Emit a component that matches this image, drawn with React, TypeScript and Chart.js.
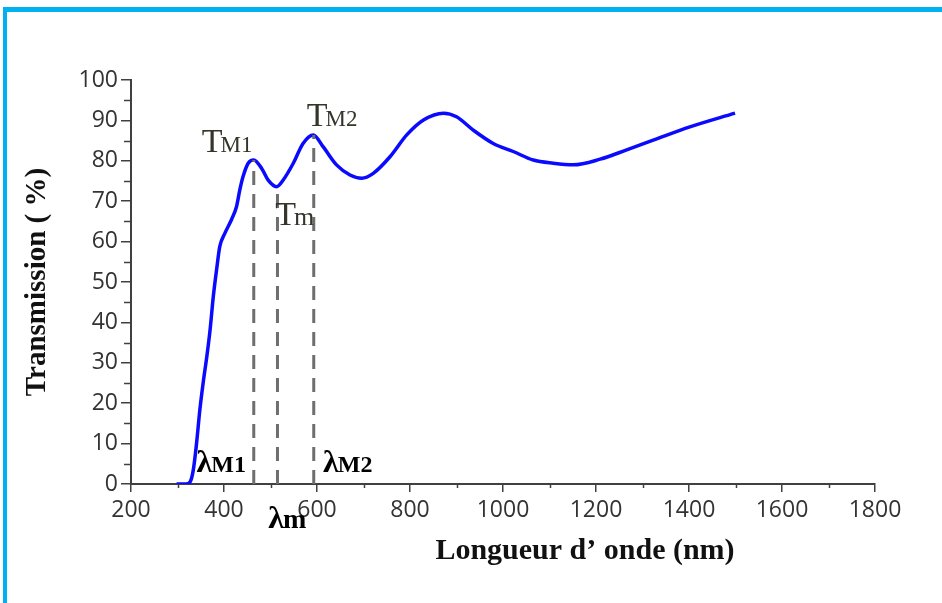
import React, { useEffect, useRef } from 'react';
import { Chart, registerables } from 'chart.js';

Chart.register(...registerables);

// Transmission spectrum (wavelength in nm, transmission in %)
const wavelengths = [298, 318, 327, 334, 341, 348, 355, 363, 370, 377, 384, 391, 402, 416, 427, 434, 441, 452, 464, 481, 495, 513, 527, 549, 570, 592, 613, 642, 671, 696, 721, 757, 793, 829, 872, 900, 936, 979, 1022, 1065, 1108, 1151, 1209, 1266, 1323, 1402, 1499];
const transmission = [0, 0, 0.5, 3.5, 10.1, 18.3, 24.9, 31.5, 38.1, 46.4, 53, 58.8, 62.1, 65.4, 68.7, 72.8, 76.1, 79.4, 80.2, 78.1, 75.2, 73.6, 75.2, 79.4, 84.3, 86.4, 83.5, 79, 76.5, 75.7, 76.9, 81, 86.4, 90.1, 91.8, 90.9, 87.6, 84.3, 82.3, 80.2, 79.4, 79, 80.4, 82.7, 85.1, 88.4, 91.8];

// Extrema marked by dashed lines: λM1, λm, λM2
const extremaNm = [464, 515, 593];
const extremaT = [80.2, 73.6, 86.4];

// Annotation labels (anchored in data coordinates)
const labelMain = ['T', 'T', 'T', 'λ', 'λ', 'λ'];
const labelSub = ['M1', 'M2', 'm', 'M1', 'M2', 'm'];
const labelNm = [352, 578, 510, 341, 613, 495];
const labelT = [82.1, 88.5, 64.1, 2.9, 2.9, -11];

const xTicks = { min: 200, max: 1800, step: 200 };
const yTicks = { min: 0, max: 100, step: 10 };

const xTitle = "Longueur d\u2019 onde (nm)";
const yTitle = 'Transmission ( %)';

const AXIS = '#404040';
const TICK_FONT = { family: "'Open Sans', 'Liberation Sans', sans-serif", size: 23 };

const overlayPlugin = {
  id: 'overlay',
  afterDraw(chart: any) {
    const { ctx, scales, chartArea } = chart;
    const xs = scales.x;
    const ys = scales.y;
    ctx.save();
    // minor ticks
    ctx.strokeStyle = AXIS;
    ctx.lineWidth = 1.5;
    for (let v = yTicks.min + yTicks.step / 2; v < yTicks.max; v += yTicks.step) {
      const py = Math.round(ys.getPixelForValue(v)) + 0.5;
      ctx.beginPath();
      ctx.moveTo(chartArea.left - 7, py);
      ctx.lineTo(chartArea.left, py);
      ctx.stroke();
    }
    for (let v = xTicks.min + xTicks.step / 2; v < xTicks.max; v += xTicks.step) {
      const px = Math.round(xs.getPixelForValue(v)) + 0.5;
      ctx.beginPath();
      ctx.moveTo(px, chartArea.bottom);
      ctx.lineTo(px, chartArea.bottom + 4);
      ctx.stroke();
    }
    // annotation labels
    ctx.textBaseline = 'alphabetic';
    ctx.textAlign = 'left';
    for (let i = 0; i < labelMain.length; i++) {
      const isLambda = labelMain[i] === 'λ';
      const px = xs.getPixelForValue(labelNm[i]);
      const py = ys.getPixelForValue(labelT[i]);
      const weight = isLambda ? 'bold ' : '';
      ctx.fillStyle = isLambda ? '#000' : '#35352a';
      ctx.font = `${weight}${isLambda ? 32 : 34}px 'Liberation Serif', serif`;
      ctx.fillText(labelMain[i], px, py);
      const w = ctx.measureText(labelMain[i]).width;
      const subSize = labelSub[i] === 'm' ? (isLambda ? 28 : 26) : (isLambda ? 24 : 23);
      ctx.font = `${weight}${subSize}px 'Liberation Serif', serif`;
      ctx.fillText(labelSub[i], px + w - (isLambda ? 1 : 2), py);
    }
    // x axis title
    ctx.fillStyle = '#111';
    ctx.font = "bold 30px 'Liberation Serif', serif";
    ctx.textAlign = 'center';
    ctx.textBaseline = 'middle';
    ctx.fillText(xTitle, xs.getPixelForValue(1000) + 82, chartArea.bottom + 67);
    ctx.restore();
  },
};

export default function App() {
  const canvasRef = useRef<HTMLCanvasElement | null>(null);

  useEffect(() => {
    const canvas = canvasRef.current;
    if (!canvas) return;
    const spectrum = wavelengths.map((x, i) => ({ x, y: transmission[i] }));
    const dashedSets = extremaNm.map((nm, i) => ({
      label: 'extremum ' + i,
      data: [
        { x: nm, y: 0 },
        { x: nm, y: extremaT[i] },
      ],
      borderColor: '#6e6e6e',
      borderWidth: 3,
      borderDash: [14, 9],
      pointRadius: 0,
      fill: false,
      tension: 0,
    }));

    const chart = new Chart(canvas, {
      type: 'line',
      data: {
        datasets: [
          ...dashedSets,
          {
            label: 'Transmission',
            data: spectrum,
            borderColor: '#0a0aff',
            borderWidth: 3.5,
            pointRadius: 0,
            fill: false,
            cubicInterpolationMode: 'monotone',
          },
        ],
      },
      options: {
        responsive: false,
        animation: false,
        layout: { padding: { left: 0, right: 67, top: 80, bottom: 0 } },
        plugins: {
          legend: { display: false },
          tooltip: { enabled: false },
          title: { display: false },
        },
        scales: {
          x: {
            type: 'linear',
            min: xTicks.min,
            max: xTicks.max,
            ticks: {
              stepSize: xTicks.step,
              color: '#333',
              font: TICK_FONT,
              padding: 5,
              maxRotation: 0,
              autoSkip: false,
              callback: (v: any) => String(v),
            },
            grid: {
              drawOnChartArea: false,
              drawTicks: true,
              tickLength: 8,
              color: AXIS,
              lineWidth: 1.5,
            },
            border: { color: AXIS, width: 2 },
            afterFit: (s: any) => {
              s.height = 119;
            },
          },
          y: {
            min: yTicks.min,
            max: yTicks.max,
            ticks: {
              stepSize: yTicks.step,
              color: '#333',
              font: TICK_FONT,
              padding: 3,
              callback: (v: any) => String(v),
            },
            grid: {
              drawOnChartArea: false,
              drawTicks: true,
              tickLength: 10,
              color: AXIS,
              lineWidth: 1.5,
            },
            border: { color: AXIS, width: 2 },
            title: {
              display: true,
              text: yTitle,
              color: '#111',
              font: { family: "'Liberation Serif', serif", weight: 'bold', size: 29 },
              padding: { top: 20, bottom: 0 },
            },
            afterFit: (s: any) => {
              s.width = 131;
            },
          },
        },
      },
      plugins: [overlayPlugin],
    } as any);
    return () => chart.destroy();
  }, []);

  return (
    <div style={{ position: 'absolute', left: 0, top: 0, width: 942, height: 603, background: '#fff', overflow: 'hidden' }}>
      <canvas ref={canvasRef} width={942} height={603} style={{ position: 'absolute', left: 0, top: 0 }} />
      <div style={{ position: 'absolute', left: 3, top: 7, width: 939, height: 5, background: '#00b0f0' }} />
      <div style={{ position: 'absolute', left: 3, top: 7, width: 4, height: 596, background: '#00b0f0' }} />
    </div>
  );
}
